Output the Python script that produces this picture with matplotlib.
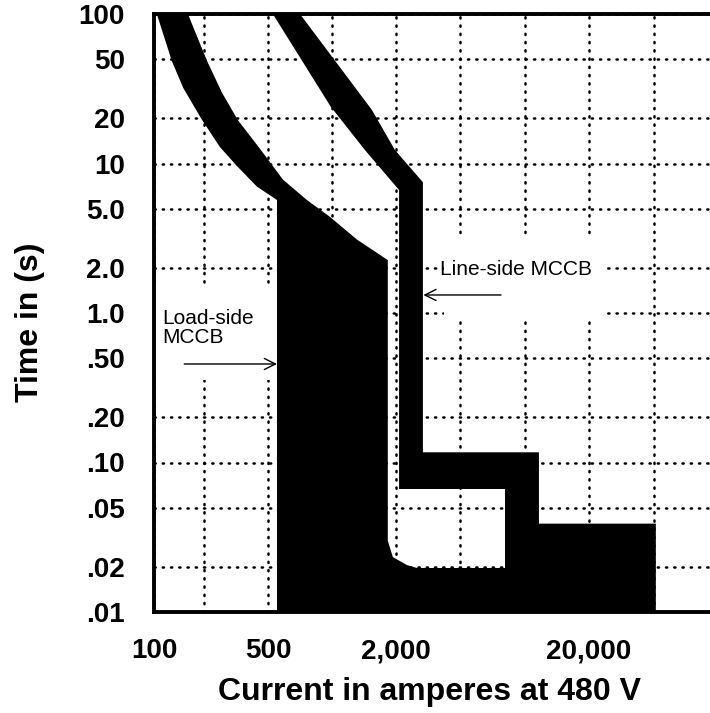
import numpy as np
import matplotlib.pyplot as plt
from matplotlib.patches import Rectangle

plt.rcParams['font.family'] = ['Liberation Sans', 'DejaVu Sans']

# ---------------- data ----------------
# load-side MCCB band: minimum (left) and maximum (right) curves
load_min_amps = [104, 128, 150, 195, 251, 321, 427, 551, 551]
load_min_secs = [100, 48.5, 32, 19.5, 12.9, 9.6, 7.0, 5.7, 0.01]
load_max_amps = [160, 209, 259, 325, 452, 588, 762, 977, 1310, 1830, 1830,
                 1933, 2340, 2700, 10000, 10000]
load_max_secs = [100, 48.5, 29.7, 19.5, 12.3, 7.8, 5.7, 4.4, 3.1, 2.26, 0.030,
                 0.0233, 0.0206, 0.0197, 0.0197, 0.01]

# line-side MCCB band
line_min_amps = [527, 988, 1429, 2090, 2090, 8080, 8080]
line_min_secs = [100, 23.9, 12.3, 6.65, 0.0665, 0.0665, 0.01]
line_max_amps = [707, 1541, 1977, 2940, 2940, 11630, 11630, 51000, 51000]
line_max_secs = [100, 22.8, 12.3, 7.5, 0.117, 0.117, 0.039, 0.039, 0.01]

x_grid = [100, 200, 500, 1000, 2000, 5000, 10000, 20000, 50000, 100000]
x_labels = ['100', '', '500', '', '2,000', '', '', '20,000', '', '']
y_ticks = [100, 50, 20, 10, 5, 2, 1, .5, .2, .1, .05, .02, .01]
y_labels = ['100', '50', '20', '10', '5.0', '2.0', '1.0', '.50', '.20', '.10',
            '.05', '.02', '.01']

# the printed current axis is a hand-drawn log paper: grid steps are (almost) even
x_step = [0, 50, 114, 178, 242, 306, 371, 435, 500, 564]
log_grid = np.log10(x_grid)


def fwd(x):
    return np.interp(np.log10(np.clip(x, 1e-9, None)), log_grid, x_step)


def inv(p):
    return 10 ** np.interp(p, x_step, log_grid)


fig = plt.figure(figsize=(7.1, 7.13), dpi=100)
ax = fig.add_axes([154 / 710, 1 - 612 / 713, 564 / 710, 598 / 713])
ax.set_xscale('function', functions=(fwd, inv))
ax.set_yscale('log')
ax.set_xlim(100, 100000)
ax.set_ylim(0.01, 100)

ax.fill(np.r_[load_min_amps, load_max_amps[::-1]],
        np.r_[load_min_secs, load_max_secs[::-1]], color='black', lw=0, zorder=2)
ax.fill(np.r_[line_min_amps, line_max_amps[::-1]],
        np.r_[line_min_secs, line_max_secs[::-1]], color='black', lw=0, zorder=2)

ax.set_xticks(x_grid)
ax.set_xticklabels(x_labels)
ax.set_yticks(y_ticks)
ax.set_yticklabels(y_labels)
ax.xaxis.set_minor_locator(plt.NullLocator())
ax.yaxis.set_minor_locator(plt.NullLocator())
ax.tick_params(length=0, labelsize=20)
ax.tick_params(axis='x', pad=19)
ax.tick_params(axis='y', pad=21)
for lab in ax.get_xticklabels() + ax.get_yticklabels():
    lab.set_fontweight('bold')

ax.set_axisbelow(True)
ax.grid(True, color='black', linestyle=(0, (0.5, 2.8)), linewidth=1.8,
        dash_capstyle='round')

# blank areas around the two labels (grid is interrupted there)
ax.add_patch(Rectangle((0, 0.388), 0.2145, 0.155, transform=ax.transAxes,
                       facecolor='white', edgecolor='none', zorder=1))
ax.add_patch(Rectangle((0.514, 0.492), 0.286, 0.138, transform=ax.transAxes,
                       facecolor='white', edgecolor='none', zorder=1))

for s in ['left', 'top', 'bottom']:
    ax.spines[s].set_linewidth(2.8)
ax.spines['right'].set_visible(False)

ax.text(112, 1.07, 'Load-side\nMCCB', fontsize=15, ha='left', va='top',
        linespacing=1.0, zorder=3)
ax.annotate('', xy=(551, 0.456), xytext=(152, 0.456),
            arrowprops=dict(arrowstyle='->', lw=1, color='black',
                            mutation_scale=20, shrinkA=0, shrinkB=0), zorder=3)
ax.text(3760, 1.94, 'Line-side MCCB', fontsize=15, ha='left', va='center', zorder=3)
ax.annotate('', xy=(2960, 1.32), xytext=(7740, 1.32),
            arrowprops=dict(arrowstyle='->', lw=1, color='black',
                            mutation_scale=20, shrinkA=0, shrinkB=0), zorder=3)

fig.text(429 / 710, 1 - 692 / 713, 'Current in amperes at 480 V', fontsize=23,
         fontweight='bold', ha='center', va='center')
fig.text(30 / 710, 1 - 322 / 713, 'Time in (s)', fontsize=23, fontweight='bold',
         rotation=90, ha='center', va='center')

fig.savefig('out.png', dpi=100)
